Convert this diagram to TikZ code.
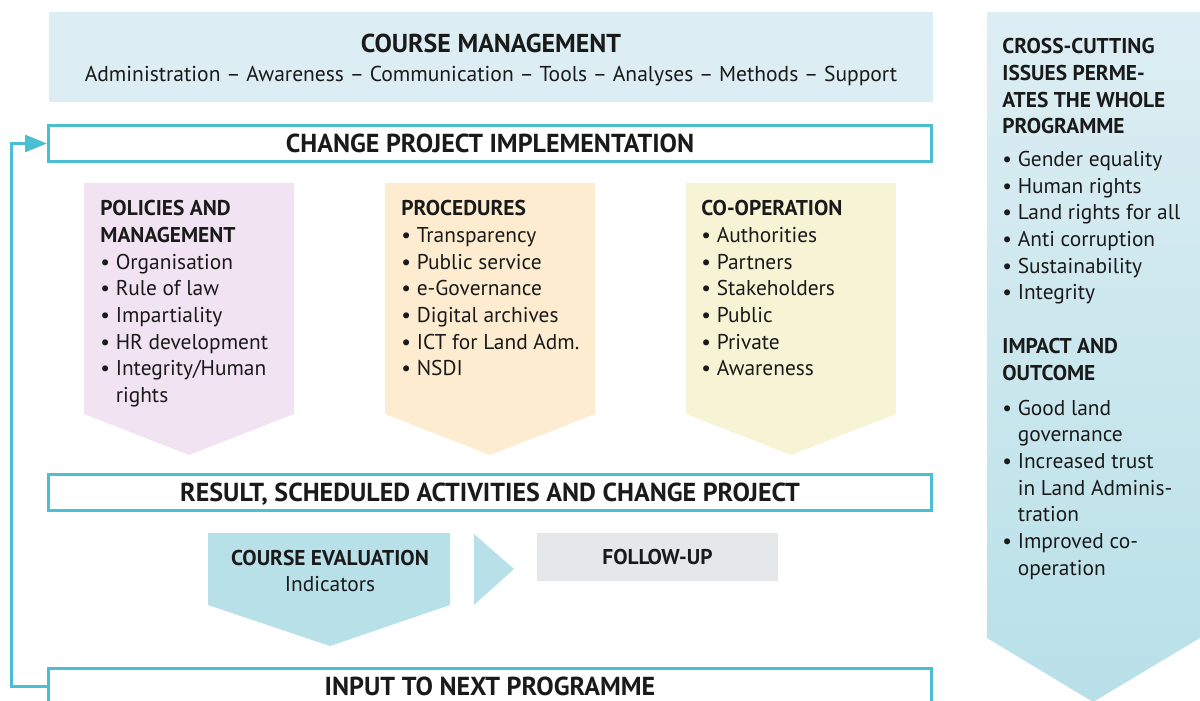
\documentclass[tikz,border=0pt]{standalone}
\usepackage{fontspec}
\setmainfont{PT Sans}
\usetikzlibrary{arrows.meta}
\definecolor{barline}{HTML}{4CBED2}
\definecolor{mgmtfill}{HTML}{DCEEF3}
\definecolor{polfill}{HTML}{F1E3F2}
\definecolor{procfill}{HTML}{FDECCF}
\definecolor{coopfill}{HTML}{F6F4D4}
\definecolor{evalfill}{HTML}{B8E0E8}
\definecolor{followfill}{HTML}{E6E7E8}
\definecolor{sidetop}{HTML}{DDEEF3}
\definecolor{sidebot}{HTML}{B8E0E8}
\definecolor{ink}{HTML}{1A1A1A}
\tikzset{
  barbox/.style={draw=barline, line width=1.5pt, fill=white, minimum width=441.5pt,
    minimum height=18pt, inner sep=0pt, text depth=0pt, font=\bfseries\fontsize{13}{15}\selectfont},
  blocktext/.style={anchor=north west, inner sep=0pt, align=left,
    font=\fontsize{10.7}{13.35}\selectfont},
  titletext/.style={inner sep=0pt, font=\bfseries\fontsize{10.7}{13.35}\selectfont},
}
\begin{document}
\begin{tikzpicture}[x=0.5pt, y=-0.5pt, text=ink, >={Triangle[length=11pt,width=8.5pt]}]
  \useasboundingbox (0,0) rectangle (1200,701);
  % course management
  \node[fill=mgmtfill, minimum width=442pt, minimum height=45pt, inner sep=0pt] (mgmt) at (491,57) {};
  \node[font=\bfseries\fontsize{12.95}{15}\selectfont, inner sep=0pt] (mgmttitle) at (491,43) {COURSE MANAGEMENT};
  \node[font=\fontsize{10.77}{13}\selectfont, inner sep=0pt] (mgmtsub) at (491,76)
    {Administration – Awareness – Communication – Tools – Analyses – Methods – Support};
  % side column
  \shade[top color=sidetop, bottom color=sidebot] (987,12) -- (1200,12) -- (1200,638) -- (1093,702) -- (987,638) -- cycle;
  \node[blocktext] (cross) at (1002,38) {\textbf{CROSS-CUTTING}\\\textbf{ISSUES PERME-}\\\textbf{ATES THE WHOLE}\\\textbf{PROGRAMME}\\[3pt]
    • Gender equality\\• Human rights\\• Land rights for all\\• Anti corruption\\• Sustainability\\• Integrity};
  \node[blocktext] (impact) at (1002,338) {\textbf{IMPACT AND}\\\textbf{OUTCOME}\\[4pt]
    • Good land\\\phantom{• }governance\\• Increased trust\\\phantom{• }in Land Adminis-\\\phantom{• }tration\\• Improved co-\\\phantom{• }operation};
  % change project
  \node[barbox] (change) at (490,143.5) {CHANGE PROJECT IMPLEMENTATION};
  \fill[polfill] (84,183) -- (294,183) -- (294,414) -- (189,455) -- (84,414) -- cycle;
  \fill[procfill] (385,183) -- (595,183) -- (595,414) -- (490,455) -- (385,414) -- cycle;
  \fill[coopfill] (686,183) -- (896,183) -- (896,414) -- (791,455) -- (686,414) -- cycle;
  \node[blocktext] (policies) at (100,200) {\textbf{POLICIES AND}\\\textbf{MANAGEMENT}\\• Organisation\\• Rule of law\\
    • Impartiality\\• HR development\\• Integrity/Human\\\phantom{• }rights};
  \node[blocktext] (procedures) at (401,200) {\textbf{PROCEDURES}\\• Transparency\\• Public service\\• e-Governance\\
    • Digital archives\\• ICT for Land Adm.\\• NSDI};
  \node[blocktext] (coop) at (701,200) {\textbf{CO-OPERATION}\\• Authorities\\• Partners\\• Stakeholders\\
    • Public\\• Private\\• Awareness};
  % result and evaluation
  \node[barbox] (result) at (490,492) {RESULT, SCHEDULED ACTIVITIES AND CHANGE PROJECT};
  \fill[evalfill] (208,533) -- (450,533) -- (450,605) -- (330,646) -- (208,605) -- cycle;
  \node[align=center, inner sep=0pt, font=\fontsize{10.7}{13.35}\selectfont] (eval) at (330,571)
    {\textbf{COURSE EVALUATION}\\Indicators};
  \fill[evalfill] (474,534) -- (514,569) -- (474,605) -- cycle;
  \node[fill=followfill, minimum width=120.5pt, minimum height=24pt, titletext] (follow) at (657.5,557) {FOLLOW-UP};
  % next programme
  \node[barbox] (input) at (490,686.5) {INPUT TO NEXT PROGRAMME};
  \draw[barline, line width=1.5pt, ->] (input.west) -- ++(-36,0) |- (change.west);
\end{tikzpicture}
\end{document}
